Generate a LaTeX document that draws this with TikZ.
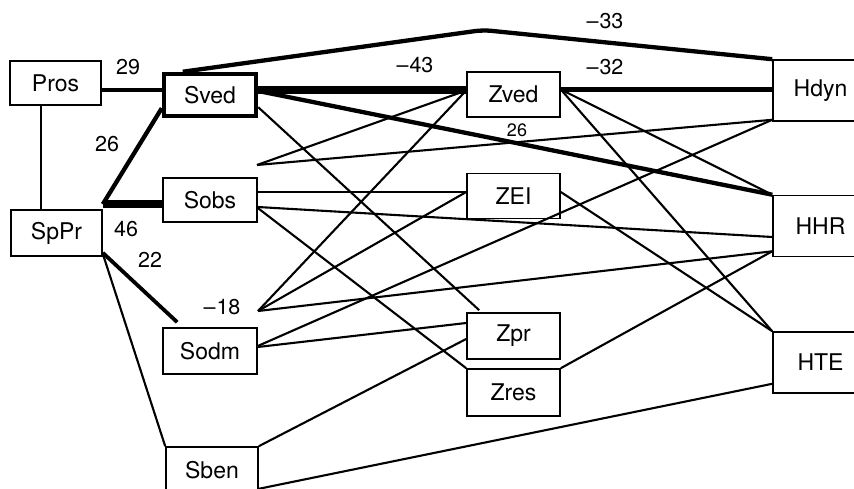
\documentclass[tikz,border=0pt]{standalone}
\usepackage{fontspec}
\setmainfont{TeX Gyre Heros}
\usepackage{tikz}

\begin{document}
\begin{tikzpicture}[x=1pt,y=-1pt,
  var/.style={draw,fill=white,line width=1.6pt,inner sep=0pt,
    minimum width=93pt,minimum height=45pt,font=\fontsize{23}{25}\selectfont},
  outcome/.style={var,minimum width=95pt,minimum height=61pt},
  coef/.style={inner sep=0pt,font=\fontsize{21.5}{23}\selectfont},
  lnk/.style={line width=2.1pt},
  strong/.style={line width=4.3pt},
  heavy/.style={line width=8pt}]
  \useasboundingbox (0,0) rectangle (854,489);
  \clip (0,0) rectangle (854,489);
  % left column
  \node[var,minimum width=91pt,minimum height=44pt] (Pros) at (55.5,83) {Pros};
  \node[var,minimum width=91pt,minimum height=46pt] (SpPr) at (56.5,233) {SpPr};
  % S-variables
  \node[var,line width=4.5pt,minimum width=92pt,minimum height=42pt] (Sved) at (210,95) {Sved};
  \node[var,minimum width=94pt,minimum height=44pt] (Sobs) at (210,200) {Sobs};
  \node[var,minimum width=94pt,minimum height=46pt] (Sodm) at (210,351) {Sodm};
  \node[var,minimum width=92pt,minimum height=46pt] (Sben) at (212,470) {Sben};
  % Z-variables
  \node[var] (Zved) at (513.5,94.5) {Zved};
  \node[var] (ZEI) at (513.5,196) {ZEI};
  \node[var,minimum height=46pt] (Zpr) at (513.5,336) {Zpr};
  \node[var,minimum height=47pt] (Zres) at (513.5,392.5) {Zres};
  % H-variables (cut at the right margin)
  \node[outcome] (Hdyn) at (820.5,90.5) {Hdyn};
  \node[outcome] (HHR) at (820.5,226) {HHR};
  \node[outcome] (HTE) at (820.5,362.5) {HTE};
  \coordinate (peak) at (483,30);
  \coordinate (jA) at (257,165);
  \coordinate (jB) at (258,311);

  % strong paths
  \draw[strong] ([yshift=-7pt]Pros.east) -- ([yshift=5pt]Sved.west);
  \draw[strong] ([yshift=5pt]SpPr.north east) -- ([yshift=10pt]Sved.south west);
  \draw[heavy,line width=7.5pt] ([yshift=5pt]SpPr.north east) -- ([yshift=5pt]SpPr.north east -| Sobs.west);
  \draw[strong,line width=3.8pt] ([yshift=4pt]SpPr.south east) -- ([xshift=15pt,yshift=5pt]Sodm.north west);
  \draw[heavy,line width=8.5pt] ([yshift=5pt]Sved.east) -- ([yshift=5pt]Sved.east -| Zved.west);
  \draw[strong,rounded corners=8pt] ([xshift=21pt]Sved.north west) -- (peak) -- (Hdyn.north west);
  \draw[strong] ([yshift=4pt]Sved.east) -- (HHR.north west);
  \draw[strong] ([yshift=5pt]Zved.east) -- ([yshift=5pt]Zved.east -| Hdyn.west);

  % weak paths
  \draw[lnk] ([xshift=-14.5pt]Pros.south) -- ([xshift=-14.5pt]Pros.south |- SpPr.north);
  \draw[lnk] ([yshift=3pt]SpPr.south east) -- (Sben.north west);
  \draw[lnk] ([yshift=11pt]Sved.south east) -- ([xshift=13pt,yshift=2pt]Zpr.north west);
  \draw[lnk] (jA) -- ([yshift=4pt]Zved.west);
  \draw[lnk] (jA) -- ([yshift=2pt]Hdyn.south west);
  \draw[lnk] (jB) -- ([yshift=4pt]Zved.west);
  \draw[lnk] (jB) -- ([yshift=4pt]ZEI.west);
  \draw[lnk] (jB) -- ([yshift=6pt]HHR.south west);
  \draw[lnk] ([yshift=8pt]Sobs.east) -- ([yshift=8pt]Sobs.east -| ZEI.west);
  \draw[lnk] ([yshift=-7pt]Sobs.east) -- ([yshift=-11pt]HHR.west);
  \draw[lnk] ([yshift=-8pt]Sobs.east) -- (Zres.north west);
  \draw[lnk] ([yshift=5pt]Sodm.east) -- ([yshift=2pt]Hdyn.south west);
  \draw[lnk] ([yshift=4pt]Sodm.east) -- ([yshift=13pt]Zpr.west);
  \draw[lnk] (Sben.north east) -- ([yshift=-3pt]Zpr.west);
  \draw[lnk] ([yshift=5pt]Sben.south east) -- ([yshift=10pt]HTE.south west);
  \draw[lnk] ([yshift=5pt]Zved.east) -- (HHR.north west);
  \draw[lnk] ([yshift=5pt]Zved.east) -- (HTE.north west);
  \draw[lnk] ([yshift=4pt]ZEI.east) -- (HTE.north west);
  \draw[lnk] (Zres.north east) -- ([yshift=6pt]HHR.south west);

  % coefficients
  \node[coef] (c29) at (128,67) {29};
  \node[coef] (c26) at (107,144) {26};
  \node[coef] (c46) at (126,229) {46};
  \node[coef] (c22) at (150,260) {22};
  \node[coef] (c18) at (222,307) {--\kern1pt18};
  \node[coef] (c43) at (415,65) {--\kern1pt43};
  \node[coef] (c33) at (605,21) {--\kern1pt33};
  \node[coef] (c32) at (605,67) {--\kern1pt32};
  \node[coef,font=\fontsize{18}{20}\selectfont] (c26b) at (517,130) {26};
\end{tikzpicture}
\end{document}
